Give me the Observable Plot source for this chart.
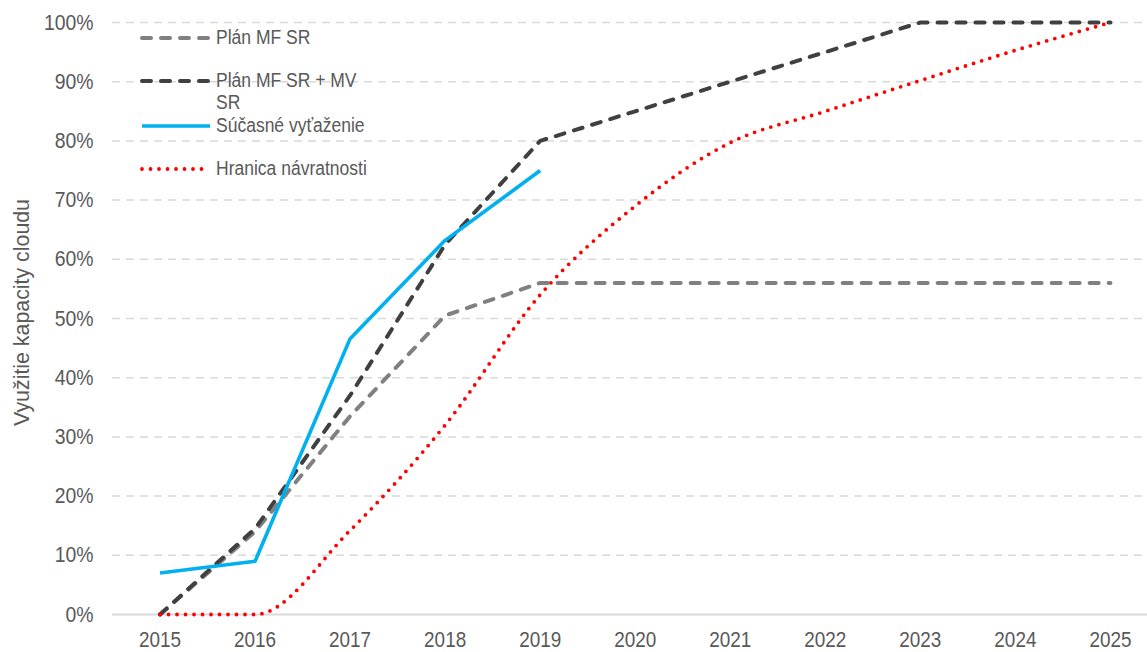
<!DOCTYPE html>
<html>
<head>
<meta charset="utf-8">
<script src="https://cdn.jsdelivr.net/npm/d3@7"></script>
<script src="https://cdn.jsdelivr.net/npm/@observablehq/plot@0.6"></script>
<style>
  html, body { margin: 0; padding: 0; background: #fff; }
  #wrap { position: relative; width: 1147px; height: 652px; font-family: "Liberation Sans", Arial, sans-serif; }
  #legend { position: absolute; left: 0; top: 0; font-size: 20px; color: #595959; }
  .item { position: absolute; left: 139px; width: 300px; height: 24px; }
  .item svg { position: absolute; left: 0; top: 4px; }
  .item span { position: absolute; left: 77px; top: 0; line-height: 22px; white-space: nowrap;
               display: inline-block; transform: scaleX(0.875); transform-origin: left top; }
</style>
</head>
<body>
<div id="wrap">
  <div id="chart"></div>
  <div id="legend"></div>
</div>
<script>
const years = [2015, 2016, 2017, 2018, 2019, 2020, 2021, 2022, 2023, 2024, 2025];
const planMF = [0, 0.14, 0.335, 0.505, 0.56, 0.56, 0.56, 0.56, 0.56, 0.56, 0.56];
const planMFMV = [0, 0.145, 0.37, 0.625, 0.80, 0.85, 0.90, 0.95, 1.00, 1.00, 1.00];
const sucasne = [0.07, 0.09, 0.466, 0.632, 0.75];
const hranica = [0, 0, 0.142, 0.32, 0.54, 0.69, 0.797, 0.85, 0.902, 0.953, 1.00];
const yTicks = [0, 0.1, 0.2, 0.3, 0.4, 0.5, 0.6, 0.7, 0.8, 0.9, 1.0];
const seriesNames = ["Plán MF SR", "Plán MF SR + MV SR", "Súčasné vyťaženie", "Hranica návratnosti"];
const yLabel = "Využitie kapacity cloudu";

const styles = [
  {stroke: "#808080", strokeWidth: 4, strokeDasharray: "9 10", strokeLinecap: "round"},
  {stroke: "#404040", strokeWidth: 4, strokeDasharray: "9 10", strokeLinecap: "round"},
  {stroke: "#00B0F0", strokeWidth: 3.6, strokeLinecap: "butt"},
  {stroke: "#FF0000", strokeWidth: 3.8, strokeDasharray: "0 8.5", strokeLinecap: "round"}
];

const toRows = vals => vals.map((v, i) => ({year: years[i], value: v}));
const dMF = toRows(planMF), dMV = toRows(planMFMV), dS = toRows(sucasne), dH = toRows(hranica);
const FONT = "Liberation Sans, Arial, sans-serif";

const chart = Plot.plot({
  width: 1147,
  height: 652,
  marginLeft: 112,
  marginRight: 0,
  marginTop: 22,
  marginBottom: 38,
  style: {fontFamily: FONT, fontSize: "22px", color: "#595959", background: "#fff"},
  x: {type: "linear", domain: [2014.5, 2025.39], label: null},
  y: {domain: [0, 1], label: null},
  marks: [
    Plot.ruleY(yTicks.filter(d => d > 0), {stroke: "#d9d9d9", strokeWidth: 1.5, strokeDasharray: "8 6", strokeOpacity: 1}),
    Plot.ruleY([0], {stroke: "#d9d9d9", strokeWidth: 2, strokeOpacity: 1}),
    Plot.axisX({ticks: years, tickFormat: d => String(d), tickSize: 0, tickPadding: 17, fontSize: 22, fill: "#595959", label: null, className: "xt"}),
    Plot.axisY({ticks: yTicks, tickFormat: d => Math.round(d * 100) + "%", tickSize: 0, tickPadding: 19, fontSize: 22, fill: "#595959", label: null, className: "yt"}),
    Plot.text([yLabel], {frameAnchor: "left", textAnchor: "middle", dx: -91, dy: -6, rotate: -90, text: d => d, fontSize: 22, fill: "#595959", className: "yl"}),
    Plot.line(dMF, {x: "year", y: "value", ...styles[0]}),
    Plot.line(dMV, {x: "year", y: "value", ...styles[1]}),
    Plot.line(dS, {x: "year", y: "value", ...styles[2]}),
    Plot.line(dH, {x: "year", y: "value", curve: "monotone-x", ...styles[3]})
  ]
});
document.getElementById("chart").appendChild(chart);

// condense text to emulate a narrow typeface
function condense(sel, k) {
  chart.querySelectorAll(sel).forEach(t => {
    const len = t.getComputedTextLength();
    t.setAttribute("textLength", (len * k).toFixed(1));
    t.setAttribute("lengthAdjust", "spacingAndGlyphs");
  });
}
condense(".xt text", 0.86);
condense(".yt text", 0.88);
condense(".yl text", 0.97);

const legend = document.getElementById("legend");
const rowY = [38, 81, 126, 169];
seriesNames.forEach((name, i) => {
  const s = styles[i];
  const item = document.createElement("div");
  item.className = "item";
  item.style.top = (rowY[i] - 12) + "px";
  item.innerHTML = `<svg width="76" height="16"><line x1="3" x2="71" y1="8" y2="8" stroke="${s.stroke}" stroke-width="${s.strokeWidth}" stroke-dasharray="${s.strokeDasharray || ""}" stroke-linecap="${s.strokeLinecap}"/></svg><span>${name === "Plán MF SR + MV SR" ? "Plán MF SR + MV<br>SR" : name}</span>`;
  legend.appendChild(item);
});
</script>
</body>
</html>
